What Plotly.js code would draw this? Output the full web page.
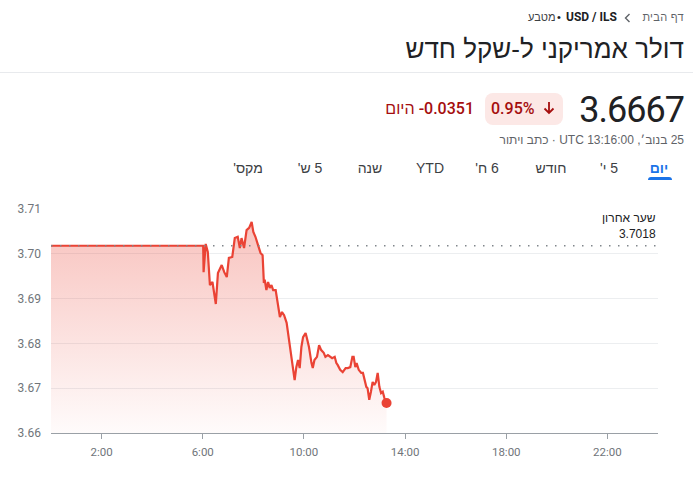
<!DOCTYPE html>
<html><head><meta charset="utf-8">
<script src="https://cdn.plot.ly/plotly-3.0.1.min.js"></script>
<style>
html,body{margin:0;padding:0}
body{width:693px;height:483px;overflow:hidden;background:#fff;font-family:"Liberation Sans",Arial,sans-serif;position:relative}
.abs{position:absolute;white-space:nowrap}
#chart{position:absolute;left:0;top:190px;width:693px;height:293px}
</style></head><body>
<script>
// ---- data ----
const dayDate = "2024-11-25";
const times = ["00:00","06:01","06:02","06:07","06:12","06:17","06:23","06:31","06:36","06:45","06:51","06:57","07:02","07:10","07:16","07:23","07:28","07:32","07:38","07:44","07:50","07:56","08:00","08:05","08:11","08:17","08:22","08:25","08:27","08:31","08:35","08:39","08:43","08:47","08:53","08:57","09:03","09:08","09:13","09:19","09:22","09:26","09:30","09:34","09:38","09:42","09:46","09:50","09:54","09:58","10:04","10:07","10:12","10:18","10:21","10:25","10:31","10:36","10:41","10:47","10:51","10:57","11:03","11:07","11:13","11:17","11:20","11:26","11:32","11:39","11:44","11:50","11:55","11:58","12:02","12:05","12:10","12:16","12:20","12:24","12:28","12:31","12:35","12:39","12:43","12:47","12:51","12:55","12:59","13:03","13:07","13:11","13:16"];
const prices = [3.7018,3.7018,3.6959,3.7022,3.7004,3.6930,3.6937,3.6888,3.6957,3.6975,3.6959,3.6948,3.6991,3.6993,3.7035,3.7038,3.7013,3.7035,3.7013,3.7053,3.7058,3.7071,3.7049,3.7038,3.7020,3.7002,3.6997,3.6935,3.6942,3.6919,3.6937,3.6924,3.6930,3.6919,3.6919,3.6897,3.6859,3.6870,3.6863,3.6846,3.6825,3.6808,3.6770,3.6747,3.6718,3.6747,3.6763,3.6745,3.6792,3.6814,3.6823,3.6812,3.6792,3.6756,3.6745,3.6763,3.6770,3.6796,3.6785,3.6779,3.6770,3.6774,3.6770,3.6767,3.6770,3.6756,3.6752,3.6741,3.6736,3.6745,3.6745,3.6747,3.6770,3.6770,3.6747,3.6756,3.6741,3.6734,3.6734,3.6718,3.6703,3.6700,3.6674,3.6692,3.6714,3.6707,3.6714,3.6734,3.6703,3.6689,3.6692,3.6678,3.6667];
const prevClose = 3.7018;
const changeAbs = "-0.0351";
const changePct = "0.95%";
const xTickTimes = ["02:00","06:00","10:00","14:00","18:00","22:00"];
const xTickLabels = ["2:00","6:00","10:00","14:00","18:00","22:00"];
const yTicks = [3.66,3.67,3.68,3.69,3.70,3.71];
const tabs = ["יום","5 י'","חודש","6 ח'","YTD","שנה","5 ש'","מקס'"];
const tabCenters = [659,609,551,487,430,370,310,248];
</script>

<!-- breadcrumb -->
<div class="abs" style="right:9px;top:11px;font-size:11px;color:#5f6368;letter-spacing:0.3px">דף הבית</div>
<svg class="abs" style="left:623px;top:13px" width="9" height="10" viewBox="0 0 9 10"><path d="M6.5 1 L2.5 5 L6.5 9" fill="none" stroke="#5f6368" stroke-width="1.4"/></svg>
<div class="abs" style="left:566px;top:10px;font-family:Roboto,sans-serif;font-size:12px;color:#202124;font-weight:bold">USD / ILS</div>
<div class="abs" style="left:557px;top:11px;font-size:11px;color:#202124">•</div>
<div class="abs" dir="rtl" style="left:528px;top:11px;font-size:11px;color:#3c4043">מטבע</div>

<!-- title -->
<div class="abs" dir="rtl" style="right:9px;top:34px;font-size:26px;line-height:30px;color:#202124">דולר אמריקני ל-שקל חדש</div>
<div class="abs" style="left:0;top:72px;width:693px;height:1px;background:#e8eaed"></div>

<!-- price row -->
<div class="abs" id="price" style="right:9px;top:90px;font-family:Roboto,sans-serif;font-size:36px;line-height:40px;letter-spacing:-1px;color:#202124"></div>
<div class="abs" style="left:485px;top:93px;width:78px;height:32px;border-radius:8px;background:#fce8e6"></div>
<div class="abs" id="pct" style="left:491px;top:99px;font-family:Roboto,sans-serif;font-size:16px;line-height:20px;font-weight:500;color:#a50e0e"></div>
<svg class="abs" style="left:543px;top:101px" width="12" height="14" viewBox="0 0 12 14"><path d="M6 1 V12 M1.5 7.5 L6 12 L10.5 7.5" fill="none" stroke="#a50e0e" stroke-width="1.8"/></svg>
<div class="abs" id="chg" dir="rtl" style="right:219px;top:99px;font-family:Roboto,'Liberation Sans',sans-serif;font-size:16px;line-height:20px;font-weight:500;color:#a50e0e"></div>

<div class="abs" dir="rtl" style="right:9px;top:133px;font-size:12px;line-height:15px;color:#5f6368">25 בנוב׳, 13:16:00 UTC · כתב ויתור</div>

<!-- tabs -->
<div id="tabs"></div>
<div class="abs" style="left:648px;top:177px;width:24px;height:3px;border-radius:3px 3px 0 0;background:#1a73e8"></div>

<div id="chart"></div>

<script>
document.getElementById('price').textContent = prices[prices.length-1].toFixed(4);
document.getElementById('pct').textContent = changePct;
const chg = document.getElementById('chg');
const num = document.createElement('bdi'); num.dir='ltr'; num.textContent = changeAbs;
chg.appendChild(num);
chg.appendChild(document.createTextNode(' היום'));
const tabsDiv = document.getElementById('tabs');
tabs.forEach((t,i)=>{
  const d = document.createElement('div');
  d.className='abs'; d.dir='rtl';
  d.textContent = t;
  d.style.cssText = 'top:159px;font-size:14px;line-height:18px;transform:translateX(-50%);left:'+tabCenters[i]+'px;color:'+(i===0?'#1a73e8':'#3c4043')+';font-weight:'+(i===0?'bold':'normal');
  tabsDiv.appendChild(d);
});

const xs = times.map(t => dayDate + ' ' + t);
const last = xs.length-1;
const traces = [
  {
    x: xs, y: prices, type:'scatter', mode:'lines',
    line:{color:'#ea4335', width:2.2},
    fill:'tozeroy',
    fillgradient:{type:'vertical', start:3.66, stop:Math.max(...prices),
      colorscale:[[0,'rgba(234,67,53,0.02)'],[1,'rgba(234,67,53,0.32)']]},
    hoverinfo:'skip'
  },
  {
    x:[xs[last]], y:[prices[last]], type:'scatter', mode:'markers',
    marker:{color:'#ea4335', size:10}, hoverinfo:'skip'
  }
];
const layout = {
  width:693, height:293,
  margin:{l:51, r:35, t:19, b:50},
  paper_bgcolor:'#fff', plot_bgcolor:'#fff',
  showlegend:false,
  font:{family:'Roboto, Arial, sans-serif', color:'#70757a', size:12},
  xaxis:{
    type:'date',
    range:[dayDate+' 00:00', '2024-11-26 00:00'],
    tickvals: xTickTimes.map(t=>dayDate+' '+t),
    ticktext: xTickLabels,
    showgrid:false, zeroline:false,
    showline:true, linecolor:'#9aa0a6', linewidth:1,
    ticks:'outside', ticklen:5, tickcolor:'#9aa0a6', tickwidth:1,
    tickfont:{size:11.5, color:'#70757a'},
    ticklabelstandoff:3,
    fixedrange:true
  },
  yaxis:{
    range:[3.66, 3.71],
    tickvals: yTicks,
    ticktext: yTicks.map(v=>v.toFixed(2)),
    showgrid:true, gridcolor:'#eceef0', gridwidth:1,
    zeroline:false, showline:false, ticks:'',
    tickfont:{size:12, color:'#70757a'},
    ticklabelstandoff:9,
    fixedrange:true
  },
  shapes:[{
    type:'line', xref:'paper', x0:0, x1:1, yref:'y', y0:prevClose, y1:prevClose,
    line:{color:'#80868b', width:1.5, dash:'1.5px,7.5px'}, layer:'above'
  }],
  annotations:[{
    xref:'paper', x:1, xanchor:'right', yref:'y', y:prevClose, yanchor:'bottom', yshift:3,
    text:'שער אחרון<br>'+prevClose.toFixed(4), align:'right', showarrow:false,
    font:{family:'Liberation Sans, Arial, sans-serif', size:12, color:'#202124'}
  }]
};
Plotly.newPlot('chart', traces, layout, {displayModeBar:false, staticPlot:true});
</script>
</body></html>
